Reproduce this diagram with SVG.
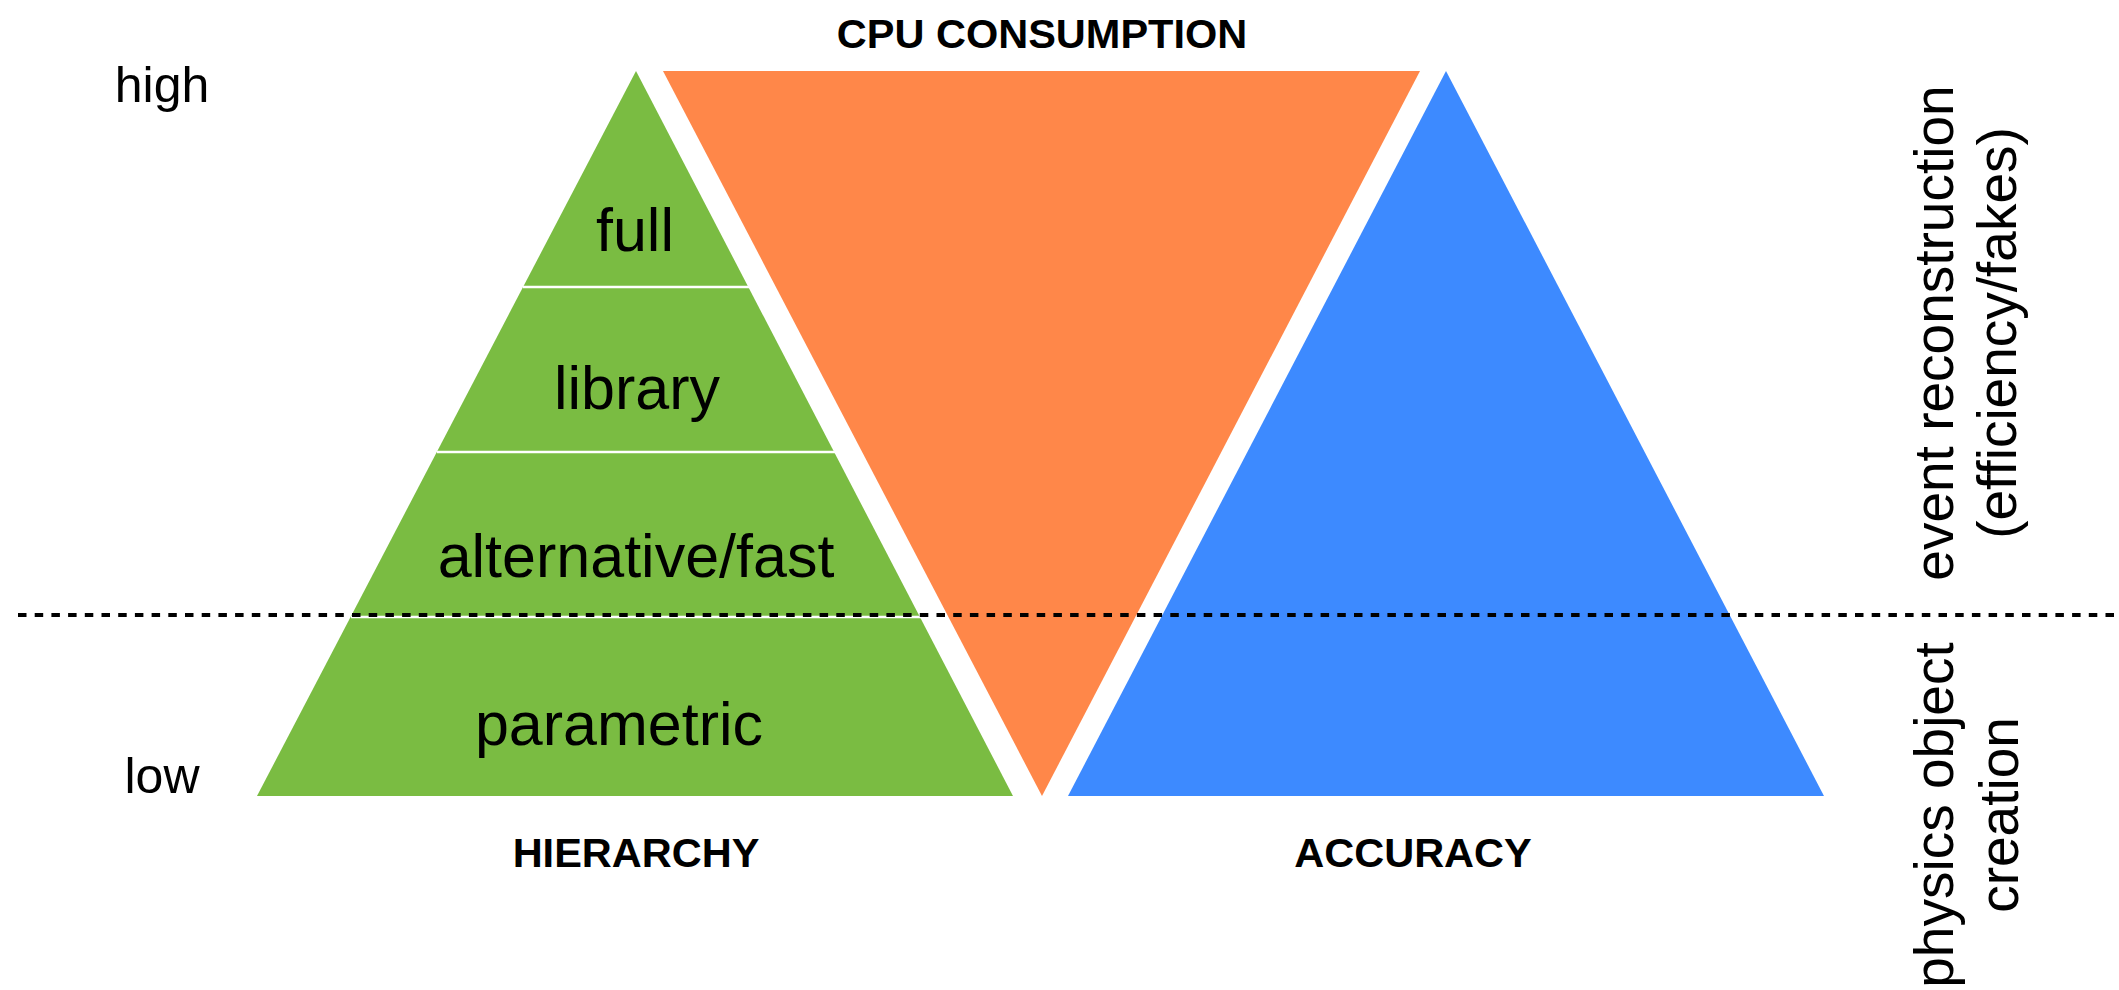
<svg xmlns="http://www.w3.org/2000/svg" width="2119" height="990" viewBox="0 0 2119 990">
  <style>
    .lbl { font-family: "Liberation Sans", Arial, sans-serif; font-size: 61px; fill: #000; text-anchor: middle; }
    .axis { font-family: "Liberation Sans", Arial, sans-serif; font-size: 50px; fill: #000; text-anchor: middle; }
    .title { font-family: "Liberation Sans", Arial, sans-serif; font-size: 41.5px; font-weight: bold; fill: #000; text-anchor: middle; }
    .side { font-family: "Liberation Sans", Arial, sans-serif; font-size: 55px; fill: #000; text-anchor: middle; }
    .sep { stroke: #ffffff; stroke-width: 2.5; }
  </style>
  <rect x="0" y="0" width="2119" height="990" fill="#ffffff"/>

  <g id="hierarchy">
    <polygon points="636,71 257,796 1013,796" fill="#7ABC42"/>
    <line class="sep" x1="523" y1="287" x2="749" y2="287"/>
    <line class="sep" x1="437" y1="452" x2="835" y2="452"/>
    <line class="sep" x1="351" y1="617" x2="921" y2="617"/>
    <text class="lbl" x="635" y="251">full</text>
    <text class="lbl" x="637" y="409">library</text>
    <text class="lbl" x="636" y="577">alternative/fast</text>
    <text class="lbl" x="619" y="745">parametric</text>
    <text class="title" x="636" y="867">HIERARCHY</text>
  </g>

  <g id="cpu">
    <polygon points="663,71 1420,71 1042,796" fill="#FF8749"/>
    <text class="title" x="1042" y="48">CPU CONSUMPTION</text>
  </g>

  <g id="accuracy">
    <polygon points="1446,71 1068,796 1824,796" fill="#3D8AFF"/>
    <text class="title" x="1413" y="867">ACCURACY</text>
  </g>

  <g id="scale">
    <text class="axis" x="162" y="102">high</text>
    <text class="axis" x="162" y="793">low</text>
  </g>

  <g id="connectors">
    <line x1="18" y1="615" x2="2119" y2="615" stroke="#000" stroke-width="4" stroke-dasharray="8.5 8.2"/>
  </g>

  <g id="event-reconstruction">
    <text class="side" transform="translate(1953,333) rotate(-90)">event reconstruction</text>
    <text class="side" transform="translate(2016,333) rotate(-90)">(efficiency/fakes)</text>
  </g>

  <g id="physics-object-creation">
    <text class="side" transform="translate(1953,815) rotate(-90)">physics object</text>
    <text class="side" transform="translate(2018,815) rotate(-90)">creation</text>
  </g>
</svg>
